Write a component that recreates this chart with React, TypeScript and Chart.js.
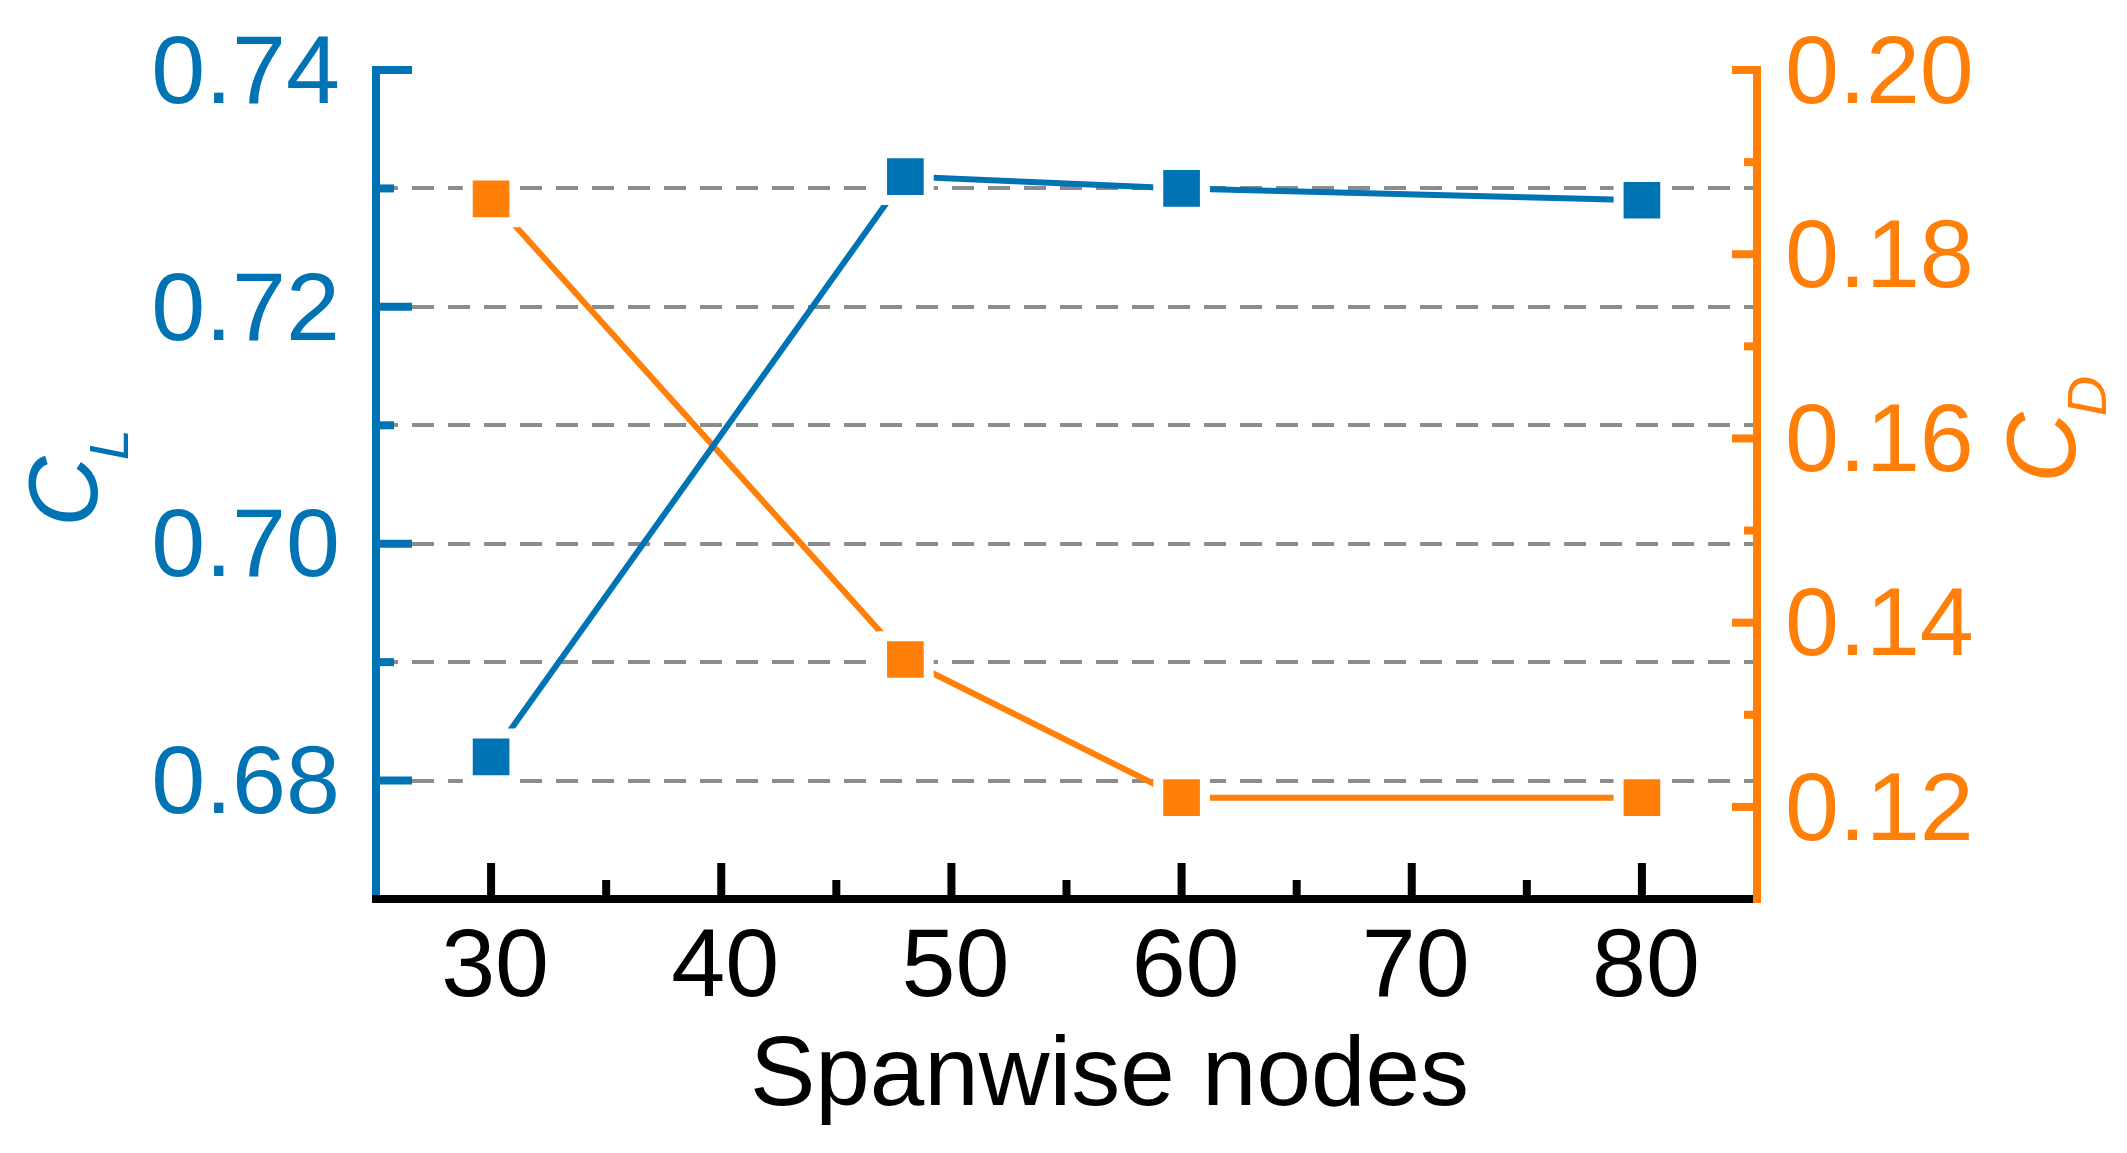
import React, { useEffect, useRef } from 'react';
import { Chart, registerables } from 'chart.js';

Chart.register(...registerables);

// ---- data ----
const nodes = [30, 48, 60, 80];
const clValues = [0.682, 0.731, 0.730, 0.729];
const cdValues = [0.186, 0.136, 0.121, 0.121];

// ---- tick values ----
const xTicks = [30, 40, 50, 60, 70, 80];
const xMinorTicks = [35, 45, 55, 65, 75];
const clTicks = [0.68, 0.70, 0.72, 0.74];
const clMinorTicks = [0.69, 0.71, 0.73];
const cdTicks = [0.12, 0.14, 0.16, 0.18, 0.20];
const cdMinorTicks = [0.13, 0.15, 0.17, 0.19];
const gridValues = [0.68, 0.69, 0.70, 0.71, 0.72, 0.73];

const xTitle = 'Spanwise nodes';
const clTitle = ['C', 'L'];
const cdTitle = ['C', 'D'];

const BLUE = '#0073b4';
const ORANGE = '#ff7f08';
const GRID = '#8c8c8c';
const FONT = '"Liberation Sans", Arial, sans-serif';

const axesPlugin = {
  id: 'customAxes',
  beforeDatasetsDraw(chart: any) {
    const { ctx, chartArea: a, scales } = chart;
    const y = scales.y;
    ctx.save();
    ctx.strokeStyle = GRID;
    ctx.lineWidth = 4;
    ctx.setLineDash([22, 14]);
    for (const v of gridValues) {
      const py = Math.round(y.getPixelForValue(v));
      ctx.beginPath();
      ctx.moveTo(a.left, py);
      ctx.lineTo(a.right, py);
      ctx.stroke();
    }
    ctx.restore();
  },
  afterDatasetsDraw(chart: any) {
    const { ctx, chartArea: a, scales } = chart;
    const x = scales.x;
    const y = scales.y;
    const y2 = scales.y2;
    const lw = 8;
    ctx.save();
    ctx.setLineDash([]);
    ctx.lineCap = 'butt';
    ctx.lineWidth = lw;

    // left axis
    ctx.strokeStyle = BLUE;
    ctx.beginPath();
    ctx.moveTo(a.left, a.top - lw / 2);
    ctx.lineTo(a.left, a.bottom);
    ctx.stroke();
    const tickL = (vals: number[], len: number) => {
      for (const v of vals) {
        const py = y.getPixelForValue(v);
        ctx.beginPath();
        ctx.moveTo(a.left, py);
        ctx.lineTo(a.left + len, py);
        ctx.stroke();
      }
    };
    tickL(clTicks, 36);
    tickL(clMinorTicks, 18);

    // bottom axis
    ctx.strokeStyle = '#000';
    ctx.beginPath();
    ctx.moveTo(a.left - lw / 2, a.bottom);
    ctx.lineTo(a.right - lw / 2, a.bottom);
    ctx.stroke();
    const tickB = (vals: number[], len: number) => {
      for (const v of vals) {
        const px = x.getPixelForValue(v);
        ctx.beginPath();
        ctx.moveTo(px, a.bottom);
        ctx.lineTo(px, a.bottom - len);
        ctx.stroke();
      }
    };
    tickB(xTicks, 36);
    tickB(xMinorTicks, 19);

    // right axis
    ctx.strokeStyle = ORANGE;
    ctx.beginPath();
    ctx.moveTo(a.right, a.top - lw / 2);
    ctx.lineTo(a.right, a.bottom + lw / 2);
    ctx.stroke();
    const tickR = (vals: number[], len: number) => {
      for (const v of vals) {
        const py = y2.getPixelForValue(v);
        ctx.beginPath();
        ctx.moveTo(a.right, py);
        ctx.lineTo(a.right - len, py);
        ctx.stroke();
      }
    };
    tickR(cdTicks, 25);
    tickR(cdMinorTicks, 13);

    // x title
    ctx.fillStyle = '#000';
    ctx.font = `98px ${FONT}`;
    ctx.textAlign = 'center';
    ctx.textBaseline = 'alphabetic';
    ctx.fillText(xTitle, (a.left + a.right) / 2 + 43, 1105);

    // rotated titles with subscripts
    const drawRotated = (txt: string[], ox: number, oy: number, color: string) => {
      ctx.save();
      ctx.translate(ox, oy);
      ctx.rotate(-Math.PI / 2);
      ctx.fillStyle = color;
      ctx.textAlign = 'left';
      ctx.textBaseline = 'alphabetic';
      ctx.font = `italic 98px ${FONT}`;
      ctx.fillText(txt[0], 0, 0);
      const w = ctx.measureText(txt[0]).width;
      ctx.font = `italic 56px ${FONT}`;
      ctx.fillText(txt[1], w - 4, 31);
      ctx.restore();
    };
    drawRotated(clTitle, 97, 527, BLUE);
    drawRotated(cdTitle, 2075, 483, ORANGE);

    ctx.restore();
  },
};

export default function App() {
  const ref = useRef<HTMLCanvasElement | null>(null);

  useEffect(() => {
    document.body.style.margin = '0';
    const canvas = ref.current;
    if (!canvas) return;
    const tickFont = { family: FONT, size: 97 };
    const chart = new Chart(canvas, {
      type: 'line',
      data: {
        datasets: [
          {
            label: 'CL',
            data: nodes.map((n, i) => ({ x: n, y: clValues[i] })),
            yAxisID: 'y',
            borderColor: BLUE,
            backgroundColor: BLUE,
            borderWidth: 6,
            pointStyle: 'rect',
            pointRadius: 33,
            pointBackgroundColor: BLUE,
            pointBorderColor: '#ffffff',
            pointBorderWidth: 10,
            tension: 0,
          },
          {
            label: 'CD',
            data: nodes.map((n, i) => ({ x: n, y: cdValues[i] })),
            yAxisID: 'y2',
            borderColor: ORANGE,
            backgroundColor: ORANGE,
            borderWidth: 6,
            pointStyle: 'rect',
            pointRadius: 33,
            pointBackgroundColor: ORANGE,
            pointBorderColor: '#ffffff',
            pointBorderWidth: 10,
            tension: 0,
          },
        ],
      },
      options: {
        responsive: false,
        animation: false,
        devicePixelRatio: 1,
        layout: { padding: { top: 70, left: 0, right: 0, bottom: 0 } },
        plugins: {
          legend: { display: false },
          tooltip: { enabled: false },
          title: { display: false },
        },
        scales: {
          x: {
            type: 'linear',
            position: 'bottom',
            min: 25,
            max: 85,
            afterBuildTicks: (s: any) => {
              s.ticks = xTicks.map((v) => ({ value: v }));
            },
            afterFit: (s: any) => {
              s.height = 254;
              s.paddingLeft = 0;
              s.paddingRight = 0;
            },
            grid: { display: false, drawTicks: false },
            border: { display: false },
            ticks: {
              color: '#000',
              font: tickFont,
              padding: 12,
              autoSkip: false,
              maxRotation: 0,
              minRotation: 0,
              labelOffset: 4,
              callback: (v: any) => String(v),
            },
          },
          y: {
            type: 'linear',
            position: 'left',
            min: 0.67,
            max: 0.74,
            afterBuildTicks: (s: any) => {
              s.ticks = clTicks.map((v) => ({ value: v }));
            },
            afterFit: (s: any) => {
              s.width = 376;
              s.paddingTop = 0;
              s.paddingBottom = 0;
            },
            grid: { display: false, drawTicks: false },
            border: { display: false },
            ticks: {
              color: BLUE,
              font: tickFont,
              padding: 36,
              autoSkip: false,
              labelOffset: 6,
              callback: (v: any) => Number(v).toFixed(2),
            },
          },
          y2: {
            type: 'linear',
            position: 'right',
            min: 0.11,
            max: 0.2,
            afterBuildTicks: (s: any) => {
              s.ticks = cdTicks.map((v) => ({ value: v }));
            },
            afterFit: (s: any) => {
              s.width = 370;
              s.paddingTop = 0;
              s.paddingBottom = 0;
            },
            grid: { display: false, drawTicks: false },
            border: { display: false },
            ticks: {
              color: ORANGE,
              font: tickFont,
              padding: 28,
              autoSkip: false,
              labelOffset: 6,
              callback: (v: any) => Number(v).toFixed(2),
            },
          },
        },
      },
      plugins: [axesPlugin],
    } as any);
    return () => chart.destroy();
  }, []);

  return (
    <div style={{ width: 2127, height: 1153, position: 'relative', background: '#fff' }}>
      <canvas ref={ref} width={2127} height={1153} style={{ display: 'block' }} />
    </div>
  );
}
